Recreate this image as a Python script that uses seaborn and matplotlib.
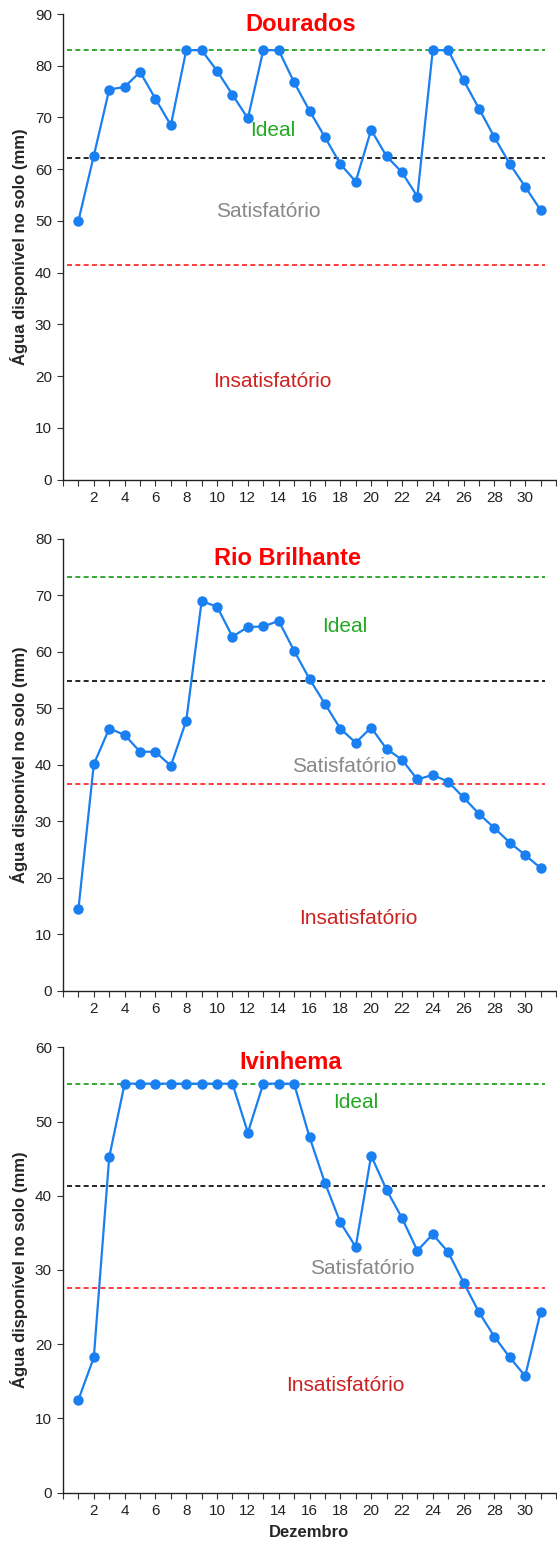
import matplotlib
matplotlib.use("Agg")
import matplotlib.pyplot as plt
import seaborn as sns
import pandas as pd

days = list(range(1, 32))
dourados = [50.0, 62.6, 75.4, 75.9, 78.8, 73.6, 68.5, 83.0, 83.0, 79.0, 74.4, 69.8, 83.0, 83.0, 76.8,
            71.3, 66.2, 61.0, 57.6, 67.6, 62.5, 59.4, 54.7, 83.0, 83.0, 77.2, 71.7, 66.2, 61.0, 56.6, 52.1]
rio_brilhante = [14.4, 40.1, 46.4, 45.3, 42.3, 42.3, 39.8, 47.8, 69.0, 68.0, 62.7, 64.4, 64.5, 65.5, 60.2,
                 55.2, 50.8, 46.4, 43.9, 46.6, 42.8, 40.9, 37.4, 38.2, 37.0, 34.2, 31.3, 28.8, 26.2, 24.0, 21.7]
ivinhema = [12.5, 18.2, 45.2, 55.1, 55.1, 55.1, 55.1, 55.1, 55.1, 55.1, 55.1, 48.5, 55.1, 55.1, 55.1,
            47.9, 41.75, 36.4, 33.1, 45.4, 40.8, 37.0, 32.6, 34.8, 32.4, 28.3, 24.3, 21.0, 18.2, 15.7, 24.3]

titles = ["Dourados", "Rio Brilhante", "Ivinhema"]
ideal_lines = [83.0, 73.3, 55.1]
mid_lines = [62.2, 54.8, 41.3]
low_lines = [41.5, 36.6, 27.5]
ymax = [90, 80, 60]
xtick_labels = [str(d) for d in range(2, 31, 2)]

# label positions (x day, y value)
title_pos = [(15.4, 87.9), (14.6, 76.6), (14.8, 57.9)]
ideal_pos = [(13.6, 67.4), (18.3, 64.5), (19.0, 52.5)]
sat_pos = [(13.3, 51.8), (18.25, 39.7), (19.45, 30.2)]
insat_pos = [(13.6, 19.0), (19.2, 12.8), (18.3, 14.4)]

sns.set_style("white")
plt.rcParams['font.family'] = ['Liberation Sans', 'DejaVu Sans']

fig = plt.figure(figsize=(5.57, 15.42), dpi=100)
W, H = 557.0, 1542.0
frames = [(14.0, 479.5), (539.0, 990.5), (1047.3, 1492.5)]
left_px, right_px = 63.0, 556.0

series = [dourados, rio_brilhante, ivinhema]
line_color = "#1a7ff0"

for i in range(3):
    top, bot = frames[i]
    ax = fig.add_axes([left_px / W, 1 - bot / H, (right_px - left_px) / W, (bot - top) / H])
    df = pd.DataFrame({"dia": days, "agua": series[i]})
    for yv, col in [(ideal_lines[i], "#119911"), (mid_lines[i], "#000000"), (low_lines[i], "#ff1a1a")]:
        ax.hlines(yv, 0.26, 31.3, colors=col, linestyles=(0, (3, 2)), linewidth=1.2, zorder=1)
    sns.lineplot(data=df, x="dia", y="agua", ax=ax, color=line_color, linewidth=1.6,
                 marker="o", markersize=7.5, markeredgecolor=line_color, markeredgewidth=0, zorder=3)
    ax.set_xlim(0, 32)
    ax.set_ylim(0, ymax[i])
    ax.set_xticks(range(0, 33))
    ax.set_xticklabels(["" if (d % 2 or d in (0, 32)) else str(d) for d in range(0, 33)])
    ax.set_yticks(range(0, ymax[i] + 1, 10))
    ax.tick_params(axis="both", which="major", direction="out", length=4.5, width=0.8,
                   color="#333333", labelsize=11, labelcolor="#222222", pad=3.5,
                   left=True, bottom=True)
    for s in ["top", "right"]:
        ax.spines[s].set_visible(False)
    for s in ["left", "bottom"]:
        ax.spines[s].set_color("#222222")
        ax.spines[s].set_linewidth(1.0)
    ax.set_ylabel("Água disponível no solo (mm)", fontsize=12, fontweight="bold", labelpad=5)
    ax.set_xlabel("Dezembro" if i == 2 else "", fontsize=12, fontweight="bold", labelpad=5)
    ax.text(*title_pos[i], titles[i], color="#ff0000", fontsize=17, fontweight="bold",
            ha="center", va="center")
    ax.text(*ideal_pos[i], "Ideal", color="#22aa22", fontsize=15, ha="center", va="center")
    ax.text(*sat_pos[i], "Satisfatório", color="#888888", fontsize=15, ha="center", va="center")
    ax.text(*insat_pos[i], "Insatisfatório", color="#cc2222", fontsize=15, ha="center", va="center")

fig.savefig("out.png", dpi=100)
